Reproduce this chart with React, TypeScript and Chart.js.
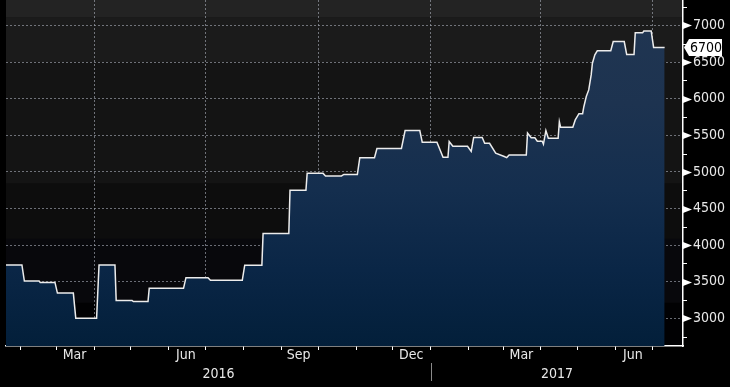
import React, { useEffect, useRef } from 'react';
import { Chart, registerables } from 'chart.js';

Chart.register(...registerables);

// ---- data -------------------------------------------------------------
const dates = [
  '2016-01-20', '2016-02-02', '2016-02-04', '2016-02-16', '2016-02-17', '2016-02-29',
  '2016-03-02', '2016-03-15', '2016-03-17', '2016-04-03', '2016-04-05', '2016-04-18',
  '2016-04-19', '2016-05-02', '2016-05-03', '2016-05-15', '2016-05-16', '2016-06-13',
  '2016-06-15', '2016-07-03', '2016-07-05', '2016-07-31', '2016-08-02', '2016-08-16',
  '2016-08-17', '2016-09-07', '2016-09-08', '2016-09-21', '2016-09-22', '2016-10-05',
  '2016-10-07', '2016-10-20', '2016-10-22', '2016-11-02', '2016-11-04', '2016-11-16',
  '2016-11-18', '2016-12-08', '2016-12-11', '2016-12-23', '2016-12-25', '2017-01-06',
  '2017-01-11', '2017-01-15', '2017-01-16', '2017-01-19', '2017-01-31', '2017-02-03',
  '2017-02-05', '2017-02-12', '2017-02-14', '2017-02-18', '2017-02-23', '2017-03-02',
  '2017-03-04', '2017-03-06', '2017-03-20', '2017-03-21', '2017-03-24', '2017-03-27',
  '2017-03-29', '2017-04-02', '2017-04-03', '2017-04-05', '2017-04-07', '2017-04-15',
  '2017-04-16', '2017-04-17', '2017-04-27', '2017-04-29', '2017-05-02', '2017-05-05',
  '2017-05-06', '2017-05-08', '2017-05-10', '2017-05-12', '2017-05-13', '2017-05-15',
  '2017-05-17', '2017-05-28', '2017-05-30', '2017-06-08', '2017-06-10', '2017-06-16',
  '2017-06-17', '2017-06-23', '2017-06-24', '2017-06-30', '2017-07-02', '2017-07-11',
];
const prices = [
  3730, 3730, 3510, 3510, 3490, 3490,
  3345, 3345, 3000, 3000, 3730, 3730,
  3245, 3245, 3230, 3230, 3410, 3410,
  3555, 3555, 3520, 3520, 3725, 3725,
  4160, 4160, 4750, 4750, 4980, 4980,
  4945, 4945, 4965, 4965, 5195, 5195,
  5320, 5320, 5565, 5565, 5405, 5405,
  5200, 5200, 5415, 5350, 5350, 5280,
  5470, 5470, 5390, 5390, 5255, 5210,
  5195, 5230, 5230, 5530, 5467, 5467,
  5420, 5420, 5380, 5565, 5460, 5460,
  5685, 5610, 5610, 5710, 5795, 5795,
  5890, 6030, 6120, 6325, 6485, 6600,
  6655, 6655, 6780, 6780, 6605, 6605,
  6900, 6900, 6925, 6925, 6700, 6700,
];
const lastValueLabel = '6700';

const xRange = ['2016-01-20', '2017-07-26'];
const yMin = 2622;
const yMax = 7348;
const yTickValues = [2750, 3000, 3250, 3500, 3750, 4000, 4250, 4500, 4750, 5000, 5250, 5500, 5750, 6000, 6250, 6500, 6750, 7000, 7250];
const monthLabelDates = ['2016-03-16', '2016-06-15', '2016-09-15', '2016-12-16', '2017-03-16', '2017-06-15'];
const monthLabelTexts = ['Mar', 'Jun', 'Sep', 'Dec', 'Mar', 'Jun'];
const quarterGridDates = ['2016-04-01', '2016-07-01', '2016-10-01', '2017-01-01', '2017-04-01', '2017-07-01'];
const monthTickDates = [
  '2016-02-01', '2016-03-01', '2016-04-01', '2016-05-01', '2016-06-01', '2016-07-01',
  '2016-08-01', '2016-09-01', '2016-10-01', '2016-11-01', '2016-12-01', '2017-01-01',
  '2017-02-01', '2017-03-01', '2017-04-01', '2017-05-01', '2017-06-01', '2017-07-01',
];
const yearLabels = ['2016', '2017'];
const yearBoundary = '2017-01-01';

// ---- helpers ----------------------------------------------------------
const EPOCH = Date.UTC(2016, 0, 1);
function dayNum(s: string): number {
  const [y, m, d] = s.split('-').map(Number);
  return (Date.UTC(y, m - 1, d) - EPOCH) / 86400000;
}

const FONT = "'Liberation Sans Narrow', 'Arial Narrow', 'DejaVu Sans Condensed', sans-serif";
const GRID = 'rgba(160,165,175,0.65)';
const TEXT = '#e8e8e8';

export default function App() {
  const ref = useRef<HTMLCanvasElement | null>(null);

  useEffect(() => {
    document.body.style.margin = '0';
    document.body.style.background = '#000';
    const canvas = ref.current;
    if (!canvas) return;

    const xMin = dayNum(xRange[0]);
    const xMax = dayNum(xRange[1]);
    const boundary = dayNum(yearBoundary);

    const labelMap = new Map<number, string>();
    monthLabelDates.forEach((d, i) => labelMap.set(dayNum(d), monthLabelTexts[i]));
    const quarterSet = new Set(quarterGridDates.map(dayNum));
    const monthSet = new Set(monthTickDates.map(dayNum));
    const xTickVals = Array.from(new Set([...monthTickDates.map(dayNum), ...monthLabelDates.map(dayNum)])).sort((a, b) => a - b);

    const yearMap = new Map<number, string>();
    yearMap.set((xMin + boundary) / 2, yearLabels[0]);
    yearMap.set((boundary + xMax) / 2, yearLabels[1]);

    const points = dates.map((d, i) => ({ x: dayNum(d), y: prices[i] }));

    const bgPlugin = {
      id: 'bg',
      beforeDraw(chart: any) {
        const { ctx, chartArea: a, width, height } = chart;
        ctx.save();
        ctx.fillStyle = '#000';
        ctx.fillRect(0, 0, width, height);
        const h = a.bottom - a.top;
        const bands: [number, number, string][] = [
          [0, 0.05, '#232323'],
          [0.05, 0.18, '#1b1b1b'],
          [0.18, 0.53, '#141414'],
          [0.53, 0.69, '#0d0d0d'],
          [0.69, 0.875, '#08080c'],
          [0.875, 1, '#010103'],
        ];
        bands.forEach(([f0, f1, c]) => {
          ctx.fillStyle = c;
          ctx.fillRect(a.left, a.top + f0 * h, a.right - a.left, (f1 - f0) * h + 0.5);
        });
        ctx.restore();
      },
    };

    const markerPlugin = {
      id: 'markers',
      afterDraw(chart: any) {
        const { ctx, chartArea: a } = chart;
        const ys = chart.scales.y;
        const xs = chart.scales.x;
        ctx.save();
        // right axis markers
        yTickValues.forEach((v) => {
          const py = Math.round(ys.getPixelForValue(v)) + 0.5;
          ctx.fillStyle = '#fff';
          ctx.strokeStyle = '#fff';
          if (v % 500 === 0) {
            ctx.beginPath();
            ctx.moveTo(a.right, py - 3.5);
            ctx.lineTo(a.right + 9, py);
            ctx.lineTo(a.right, py + 3.5);
            ctx.closePath();
            ctx.fill();
          } else {
            ctx.lineWidth = 1;
            ctx.beginPath();
            ctx.moveTo(a.right, py);
            ctx.lineTo(a.right + 4, py);
            ctx.stroke();
          }
        });
        // last value box
        const lv = prices[prices.length - 1];
        const ly = ys.getPixelForValue(lv);
        const bx = a.right + 6;
        const bw = 33;
        const bh = 17;
        ctx.fillStyle = '#fff';
        ctx.beginPath();
        ctx.moveTo(a.right + 1, ly);
        ctx.lineTo(bx, ly - bh / 2);
        ctx.lineTo(bx + bw, ly - bh / 2);
        ctx.lineTo(bx + bw, ly + bh / 2);
        ctx.lineTo(bx, ly + bh / 2);
        ctx.closePath();
        ctx.fill();
        ctx.fillStyle = '#000';
        ctx.font = `14px ${FONT}`;
        ctx.textAlign = 'center';
        ctx.textBaseline = 'middle';
        ctx.fillText(lastValueLabel, bx + bw / 2 + 0.5, ly + 1);
        // year divider
        const px = Math.round(xs.getPixelForValue(boundary)) + 0.5;
        ctx.strokeStyle = '#8a8a8a';
        ctx.lineWidth = 1;
        ctx.beginPath();
        ctx.moveTo(px, a.bottom + 17);
        ctx.lineTo(px, a.bottom + 35);
        ctx.stroke();
        ctx.restore();
      },
    };

    const chart = new Chart(canvas, {
      type: 'line',
      data: {
        datasets: [
          {
            data: points,
            borderColor: '#ececec',
            borderWidth: 1.5,
            pointRadius: 0,
            tension: 0,
            fill: 'start',
            backgroundColor: (c: any) => {
              const a = c.chart.chartArea;
              if (!a) return '#14304f';
              const g = c.chart.ctx.createLinearGradient(0, a.top, 0, a.bottom);
              g.addColorStop(0, 'rgb(33,54,82)');
              g.addColorStop(0.3, 'rgb(29,51,80)');
              g.addColorStop(0.55, 'rgb(20,46,78)');
              g.addColorStop(0.78, 'rgb(10,38,70)');
              g.addColorStop(1, 'rgb(3,31,58)');
              return g;
            },
          },
        ],
      },
      options: {
        animation: false,
        responsive: false,
        maintainAspectRatio: false,
        layout: { padding: { left: 6, right: 0, top: 0, bottom: 0 } },
        plugins: { legend: { display: false }, tooltip: { enabled: false } },
        scales: {
          x: {
            type: 'linear',
            position: 'bottom',
            min: xMin,
            max: xMax,
            weight: 0,
            z: 1,
            afterBuildTicks: (s: any) => {
              s.ticks = xTickVals.map((v) => ({ value: v }));
            },
            afterFit: (s: any) => {
              s.height = 18;
              s.paddingLeft = 0;
              s.paddingRight = 0;
            },
            ticks: {
              autoSkip: false,
              maxRotation: 0,
              minRotation: 0,
              color: TEXT,
              padding: -2,
              font: { family: FONT, size: 14, lineHeight: 1 },
              callback: (v: any) => labelMap.get(Number(v)) ?? '',
            },
            grid: {
              drawOnChartArea: true,
              lineWidth: 1,
              tickLength: 4,
              tickWidth: 1,
              color: (c: any) => (c.tick && quarterSet.has(c.tick.value) ? GRID : 'rgba(0,0,0,0)'),
              tickColor: (c: any) => (c.tick && monthSet.has(c.tick.value) ? '#ffffff' : 'rgba(0,0,0,0)'),
            },
            border: { display: true, color: '#ffffff', width: 1.5, dash: [2, 2] },
          },
          x2: {
            type: 'linear',
            position: 'bottom',
            min: xMin,
            max: xMax,
            weight: 1,
            afterBuildTicks: (s: any) => {
              s.ticks = Array.from(yearMap.keys()).map((v) => ({ value: v }));
            },
            afterFit: (s: any) => {
              s.height = 23;
              s.paddingLeft = 0;
              s.paddingRight = 0;
            },
            ticks: {
              autoSkip: false,
              maxRotation: 0,
              minRotation: 0,
              color: TEXT,
              padding: 3,
              font: { family: FONT, size: 14, lineHeight: 1 },
              callback: (v: any) => yearMap.get(Number(v)) ?? '',
            },
            grid: { display: false, drawTicks: false },
            border: { display: false },
          },
          y: {
            type: 'linear',
            position: 'right',
            min: yMin,
            max: yMax,
            z: 1,
            afterBuildTicks: (s: any) => {
              s.ticks = yTickValues.map((v) => ({ value: v }));
            },
            afterFit: (s: any) => {
              s.width = 47;
              s.paddingTop = 0;
              s.paddingBottom = 0;
            },
            ticks: {
              color: TEXT,
              padding: 2,
              font: { family: FONT, size: 14, lineHeight: 1 },
              callback: (v: any) => (Number(v) % 500 === 0 ? String(v) : ''),
            },
            grid: {
              lineWidth: 1,
              tickLength: 8,
              color: (c: any) => (c.tick && c.tick.value % 500 === 0 ? GRID : 'rgba(0,0,0,0)'),
              tickColor: 'rgba(0,0,0,0)',
            },
            border: { display: true, color: '#ffffff', width: 1.5, dash: [2, 2] },
          },
        },
      },
      plugins: [bgPlugin, markerPlugin],
    } as any);

    return () => chart.destroy();
  }, []);

  return (
    <div style={{ width: 730, height: 387, background: '#000' }}>
      <canvas ref={ref} width={730} height={387} style={{ display: 'block' }} />
    </div>
  );
}
